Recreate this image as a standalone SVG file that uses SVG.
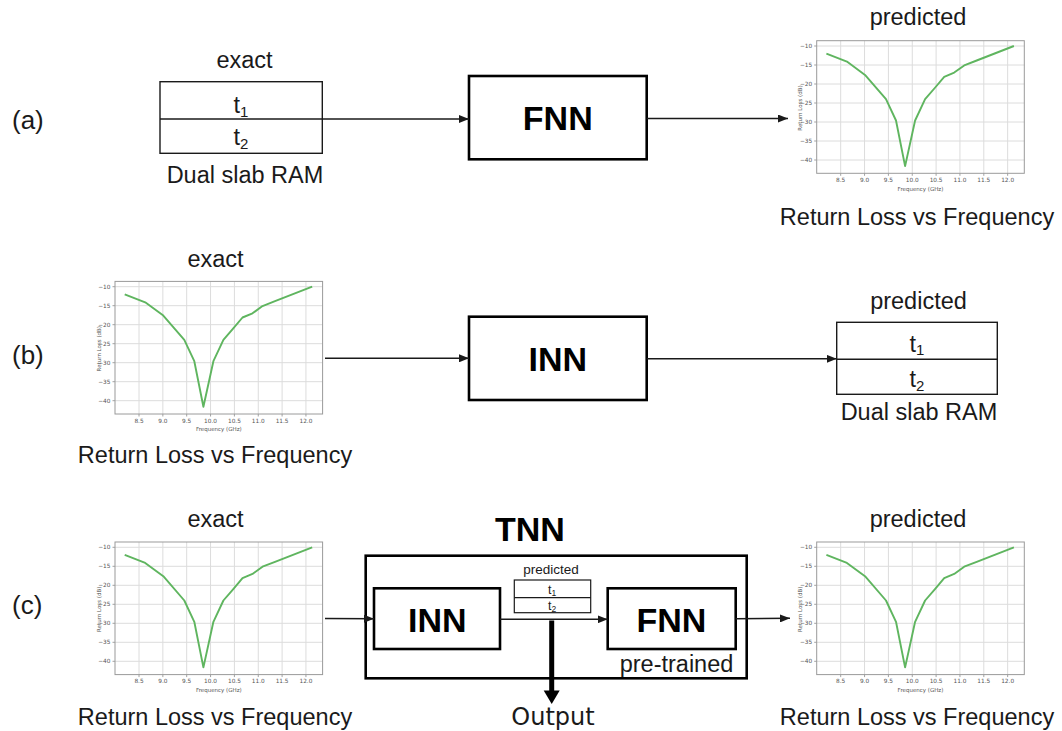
<svg xmlns="http://www.w3.org/2000/svg" xmlns:xlink="http://www.w3.org/1999/xlink" width="1062" height="731" viewBox="0 0 1062 731">
  <style>
    .t { font-family: "Liberation Sans", Arial, sans-serif; fill: #1a1a1a; }
    .lbl { font-size: 23.5px; }
    .big { font-size: 34px; font-weight: bold; fill: #000; }
    .tag { font-size: 26px; }
    .sub { font-size: 15px; }
    .sm { font-size: 13.5px; }
    .smt { font-size: 12.5px; }
    .smsub { font-size: 8.5px; }
    .box { fill: #fff; stroke: #000; stroke-width: 2.6; }
    .ram { fill: #fff; stroke: #1a1a1a; stroke-width: 1.4; }
    .conn { fill: none; stroke: #1a1a1a; stroke-width: 1.4; }
    .grid { stroke: #dcdcdc; stroke-width: 1; }
    .frame { fill: none; stroke: #9a9a9a; stroke-width: 1; }
    .tick { stroke: #8a8a8a; stroke-width: 0.8; }
    .ax { font-family: "DejaVu Sans", sans-serif; font-size: 5.8px; fill: #555; }
    .curve { fill: none; stroke: #5fb55f; stroke-width: 1.9; stroke-linejoin: round; }
  </style>
  <defs>
    <marker id="ah" viewBox="0 0 10 8" refX="10" refY="4" markerWidth="10" markerHeight="8" markerUnits="userSpaceOnUse" orient="auto">
      <path d="M0,0 L10,4 L0,8 z" fill="#1a1a1a"/>
    </marker>
    <!-- return loss plot, origin = left axis at the -10 dB tick -->
    <g id="rlplot">
      <rect x="0" y="-5.3" width="207.6" height="132.6" fill="#fff"/>
      <g class="grid">
        <line x1="24" y1="-5.3" x2="24" y2="127.3"/>
        <line x1="47.85" y1="-5.3" x2="47.85" y2="127.3"/>
        <line x1="71.7" y1="-5.3" x2="71.7" y2="127.3"/>
        <line x1="95.55" y1="-5.3" x2="95.55" y2="127.3"/>
        <line x1="119.4" y1="-5.3" x2="119.4" y2="127.3"/>
        <line x1="143.25" y1="-5.3" x2="143.25" y2="127.3"/>
        <line x1="167.1" y1="-5.3" x2="167.1" y2="127.3"/>
        <line x1="190.95" y1="-5.3" x2="190.95" y2="127.3"/>
        <line x1="0" y1="0" x2="207.6" y2="0"/>
        <line x1="0" y1="19" x2="207.6" y2="19"/>
        <line x1="0" y1="38" x2="207.6" y2="38"/>
        <line x1="0" y1="57" x2="207.6" y2="57"/>
        <line x1="0" y1="76" x2="207.6" y2="76"/>
        <line x1="0" y1="95" x2="207.6" y2="95"/>
        <line x1="0" y1="114" x2="207.6" y2="114"/>
      </g>
      <g class="tick">
        <line x1="-2.5" y1="0" x2="0" y2="0"/>
        <line x1="-2.5" y1="19" x2="0" y2="19"/>
        <line x1="-2.5" y1="38" x2="0" y2="38"/>
        <line x1="-2.5" y1="57" x2="0" y2="57"/>
        <line x1="-2.5" y1="76" x2="0" y2="76"/>
        <line x1="-2.5" y1="95" x2="0" y2="95"/>
        <line x1="-2.5" y1="114" x2="0" y2="114"/>
        <line x1="24" y1="127.3" x2="24" y2="129.8"/>
        <line x1="47.85" y1="127.3" x2="47.85" y2="129.8"/>
        <line x1="71.7" y1="127.3" x2="71.7" y2="129.8"/>
        <line x1="95.55" y1="127.3" x2="95.55" y2="129.8"/>
        <line x1="119.4" y1="127.3" x2="119.4" y2="129.8"/>
        <line x1="143.25" y1="127.3" x2="143.25" y2="129.8"/>
        <line x1="167.1" y1="127.3" x2="167.1" y2="129.8"/>
        <line x1="190.95" y1="127.3" x2="190.95" y2="129.8"/>
      </g>
      <rect class="frame" x="0" y="-5.3" width="207.6" height="132.6"/>
      <g class="ax" text-anchor="end">
        <text x="-4.5" y="2.1">−10</text>
        <text x="-4.5" y="21.1">−15</text>
        <text x="-4.5" y="40.1">−20</text>
        <text x="-4.5" y="59.1">−25</text>
        <text x="-4.5" y="78.1">−30</text>
        <text x="-4.5" y="97.1">−35</text>
        <text x="-4.5" y="116.1">−40</text>
      </g>
      <g class="ax" text-anchor="middle">
        <text x="24" y="136">8.5</text>
        <text x="47.85" y="136">9.0</text>
        <text x="71.7" y="136">9.5</text>
        <text x="95.55" y="136">10.0</text>
        <text x="119.4" y="136">10.5</text>
        <text x="143.25" y="136">11.0</text>
        <text x="167.1" y="136">11.5</text>
        <text x="190.95" y="136">12.0</text>
        <text x="103.8" y="144.6" style="font-size:5.5px">Frequency (GHz)</text>
        <text transform="translate(-14.5,62) rotate(-90)" style="font-size:5.5px">Return Loss (dB)</text>
      </g>
      <polyline class="curve" points="9.7,7.6 30.2,15.6 48.3,28.9 69.3,53.2 79.3,74.5 88.4,120.1 98.4,74.5 108.4,53.2 118.5,41.5 127.5,30.8 137.5,26.6 147.5,19.4 160,14.5 197.2,0"/>
    </g>
  </defs>

  <!-- row (a): forward network -->
  <g id="label-a"><text class="t tag" x="12" y="128.5">(a)</text></g>
  <g id="a-ram">
    <text class="t lbl" x="244.5" y="68.3" text-anchor="middle">exact</text>
    <rect class="ram" x="160" y="81.7" width="162.3" height="71.6"/>
    <line class="conn" x1="160" y1="119" x2="322.3" y2="119"/>
    <text class="t lbl" x="241" y="113" text-anchor="middle">t<tspan class="sub" dy="3.7">1</tspan></text>
    <text class="t lbl" x="241" y="145" text-anchor="middle">t<tspan class="sub" dy="3.7">2</tspan></text>
    <text class="t lbl" x="245" y="183.3" text-anchor="middle">Dual slab RAM</text>
  </g>
  <g id="a-fnn">
    <rect class="box" x="469" y="76" width="177.7" height="83.3"/>
    <text class="t big" x="557.8" y="130" text-anchor="middle">FNN</text>
  </g>
  <g id="a-plot">
    <text class="t lbl" x="918" y="25" text-anchor="middle">predicted</text>
    <use href="#rlplot" xlink:href="#rlplot" transform="translate(816.7,46)"/>
    <text class="t lbl" x="917" y="224.5" text-anchor="middle">Return Loss vs Frequency</text>
  </g>

  <!-- row (b): inverse network -->
  <g id="label-b"><text class="t tag" x="12" y="364">(b)</text></g>
  <g id="b-plot">
    <text class="t lbl" x="215.5" y="266.5" text-anchor="middle">exact</text>
    <use href="#rlplot" xlink:href="#rlplot" transform="translate(115,286.7)"/>
    <text class="t lbl" x="215" y="463.3" text-anchor="middle">Return Loss vs Frequency</text>
  </g>
  <g id="b-inn">
    <rect class="box" x="469" y="316.7" width="177.7" height="83.3"/>
    <text class="t big" x="557.8" y="370.6" text-anchor="middle">INN</text>
  </g>
  <g id="b-ram">
    <text class="t lbl" x="918.5" y="309.3" text-anchor="middle">predicted</text>
    <rect class="ram" x="836.7" y="322.3" width="160.6" height="72"/>
    <line class="conn" x1="836.7" y1="359.3" x2="997.3" y2="359.3"/>
    <text class="t lbl" x="917" y="351.7" text-anchor="middle">t<tspan class="sub" dy="3.7">1</tspan></text>
    <text class="t lbl" x="917" y="387.3" text-anchor="middle">t<tspan class="sub" dy="3.7">2</tspan></text>
    <text class="t lbl" x="919" y="420" text-anchor="middle">Dual slab RAM</text>
  </g>

  <!-- row (c): tandem network -->
  <g id="label-c"><text class="t tag" x="12" y="614">(c)</text></g>
  <g id="c-input-plot">
    <text class="t lbl" x="215.5" y="527" text-anchor="middle">exact</text>
    <use href="#rlplot" xlink:href="#rlplot" transform="translate(115,547.3)"/>
    <text class="t lbl" x="215" y="725" text-anchor="middle">Return Loss vs Frequency</text>
  </g>
  <g id="c-tnn">
    <text class="t big" x="530" y="541" text-anchor="middle">TNN</text>
    <rect class="box" x="365.7" y="555.7" width="381" height="122.6"/>
  </g>
  <g id="c-inn">
    <rect class="box" x="374" y="588.3" width="126" height="60.7"/>
    <text class="t big" x="437.3" y="631.5" text-anchor="middle">INN</text>
  </g>
  <g id="c-ram">
    <text class="t sm" x="551" y="574" text-anchor="middle">predicted</text>
    <rect class="ram" x="514.3" y="580" width="76.4" height="32.7" style="stroke-width:1.2"/>
    <line class="conn" x1="514.3" y1="597.7" x2="590.7" y2="597.7" style="stroke-width:1.2"/>
    <text class="t smt" x="552" y="593.6" text-anchor="middle">t<tspan class="smsub" dy="2.2">1</tspan></text>
    <text class="t smt" x="552" y="609.8" text-anchor="middle">t<tspan class="smsub" dy="2.2">2</tspan></text>
  </g>
  <g id="c-fnn">
    <rect class="box" x="607.7" y="588.3" width="128" height="60.7"/>
    <text class="t big" x="671.5" y="631.5" text-anchor="middle">FNN</text>
    <text class="t lbl" x="676.5" y="671.7" text-anchor="middle">pre-trained</text>
  </g>
  <g id="c-output">
    <text x="553" y="725" text-anchor="middle" style="font-family:'DejaVu Sans',sans-serif;font-size:24px;fill:#1a1a1a">Output</text>
  </g>
  <g id="c-output-plot">
    <text class="t lbl" x="918" y="527" text-anchor="middle">predicted</text>
    <use href="#rlplot" xlink:href="#rlplot" transform="translate(816.7,547.3)"/>
    <text class="t lbl" x="917" y="725" text-anchor="middle">Return Loss vs Frequency</text>
  </g>

  <!-- connectors -->
  <g id="connectors">
    <line class="conn" x1="322.3" y1="119" x2="469" y2="119" marker-end="url(#ah)"/>
    <line class="conn" x1="646.7" y1="118.5" x2="788" y2="118.5" marker-end="url(#ah)"/>
    <line class="conn" x1="325" y1="358.3" x2="469" y2="358.3" marker-end="url(#ah)"/>
    <line class="conn" x1="646.7" y1="358.8" x2="836.7" y2="358.8" marker-end="url(#ah)"/>
    <line class="conn" x1="325" y1="618.5" x2="374" y2="618.8" marker-end="url(#ah)"/>
    <line class="conn" x1="500" y1="619.3" x2="607.7" y2="619.3" marker-end="url(#ah)"/>
    <line class="conn" x1="735.7" y1="618.8" x2="790" y2="618.3" marker-end="url(#ah)"/>
    <line x1="551.7" y1="620.5" x2="551.7" y2="692" stroke="#000" stroke-width="5"/>
    <path d="M543.7,690.5 L559.7,690.5 L551.7,704 z" fill="#000"/>
  </g>
</svg>
